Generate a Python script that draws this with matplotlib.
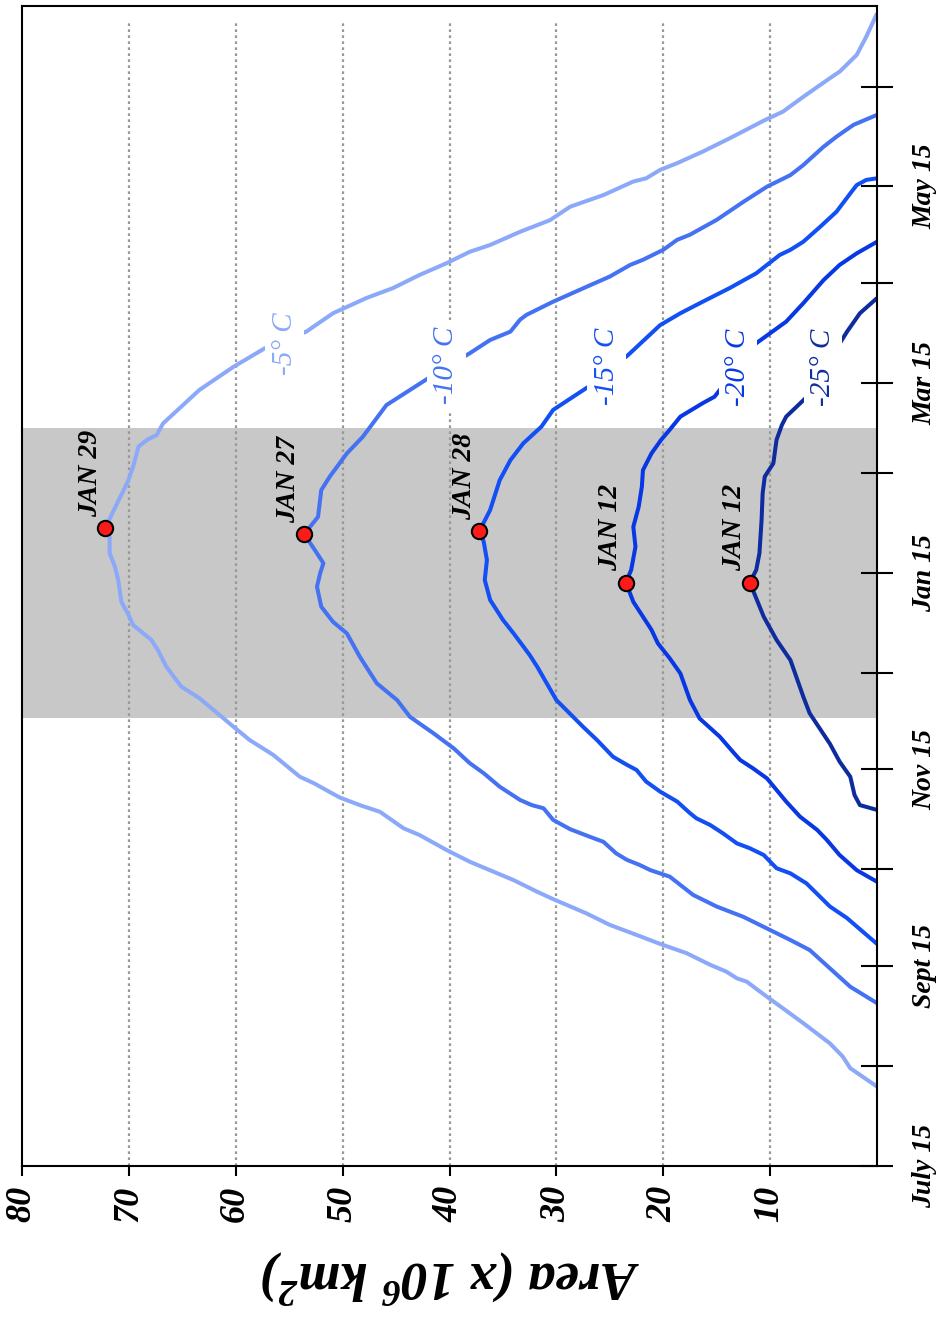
import datetime as dt
import matplotlib
matplotlib.use("Agg")
import matplotlib.pyplot as plt

plt.rcParams['font.family'] = ['Liberation Serif', 'DejaVu Serif']
plt.rcParams['mathtext.fontset'] = 'custom'
plt.rcParams['mathtext.rm'] = 'Liberation Serif:bold:italic'
plt.rcParams['mathtext.it'] = 'Liberation Serif:bold:italic'
plt.rcParams['mathtext.bf'] = 'Liberation Serif:bold:italic'
plt.rcParams['mathtext.default'] = 'rm'

SEASON_START = dt.date(2001, 7, 15)


def season_day(month, day):
    """Days elapsed since July 15 of the season."""
    year = 2001 if month >= 7 else 2002
    return (dt.date(year, month, day) - SEASON_START).days


# ---------------- data ----------------
temps = [-5, -10, -15, -20, -25]

# days since July 15, area in 10^6 km^2
days_m5 = [24.5, 30.2, 33.8, 37.9, 44.2, 48.8, 52.4, 57.1, 58.1, 60.2, 62.3, 65.9, 68.8, 71.6, 74.7,
           78.3, 82.7, 85.0, 88.6, 94.3, 98.0, 102.6, 104.7, 109.8, 111.9, 114.3, 118.7, 120.7, 127.5,
           132.1, 136.2, 145.1, 148.7, 154.9, 160.1, 163.2, 167.8, 171.4, 175.0, 181.8, 185.9, 190.1,
           195.2, 198, 205.6, 212.3, 217.0, 223.2, 225.3, 226.8, 230.4, 240.8, 248.0, 253.7, 258.9,
           264.6, 269.3, 272.4, 276.5, 280.1, 283.7, 285.8, 289.9, 293.5, 297.7, 301.3, 305.5, 306.5,
           309.1, 311.2, 314.8, 318.9, 324.4, 327.2, 331.8, 337.6, 339.6, 344.8, 350.5, 357.7]
area_m5 = [0.0, 2.5, 3.2, 4.4, 6.9, 8.8, 10.3, 12.2, 13.1, 14.1, 15.6, 17.8, 20.3, 22.5, 25.0,
           27.2, 30.3, 31.8, 34.0, 38.1, 40.3, 42.8, 44.3, 46.5, 48.4, 50.3, 52.7, 54.0, 56.5,
           58.7, 60.2, 63.4, 65.1, 66.5, 67.3, 67.9, 69.6, 70.1, 70.7, 71.0, 71.3, 71.8,
           71.8, 72.2, 71.1, 70.1, 69.6, 69.1, 68.3, 67.4, 66.8, 63.4, 60.2, 57.3, 53.4,
           50.9, 47.8, 45.3, 42.8, 40.3, 38.1, 36.2, 33.4, 30.6, 28.7, 25.6, 22.8, 21.6,
           20.3, 18.7, 16.3, 13.8, 10.6, 8.8, 6.9, 4.4, 3.5, 1.9, 1.0, 0.0]

days_m10 = [50.4, 55.5, 61.2, 66.9, 70.0, 73.6, 77.2, 80.4, 84.0, 89.7, 90.7, 91.7, 93.3, 94.9, 96.9,
            100.5, 102.1, 104.4, 107.3, 110.9, 111.9, 113.5, 117.6, 121.8, 124.9, 129.5, 134.2, 139.3,
            144.5, 149.7, 152.8, 158.0, 165.2, 168.8, 173.5, 179.7, 183.9, 187.0, 191.1, 196, 201.4,
            209.7, 213.9, 221.1, 226.3, 236.1, 244.4, 252.2, 256.3, 258.9, 262.6, 264.1, 268.2, 271.9,
            276.0, 279.6, 281.2, 284.3, 287.4, 289.0, 293.6, 299.2, 303.9, 307.5, 310.6, 316.3, 319.4,
            323.1, 326.2]
area_m10 = [0.0, 2.5, 4.4, 6.3, 8.1, 10.3, 12.5, 15.0, 17.2, 19.4, 20.3, 21.2, 22.2, 23.4, 24.4,
            25.6, 26.9, 28.7, 30.3, 31.2, 32.3, 33.4, 35.3, 36.8, 38.1, 39.6, 41.5, 43.7,
            44.9, 46.8, 47.4, 48.4, 49.6, 50.9, 52.0, 52.4, 52.1, 51.8, 52.6, 53.6, 52.3,
            52.0, 51.2, 49.6, 48.1, 45.9, 42.0, 38.1, 36.2, 34.3, 33.4, 32.8, 30.3, 27.8,
            25.0, 23.1, 21.9, 20.0, 18.7, 17.5, 15.0, 12.5, 10.3, 8.1, 6.9, 5.0, 3.8,
            2.2, 0.0]

days_m15 = [68.8, 76.8, 80.4, 87.6, 90.7, 92.3, 96.4, 98.5, 100.0, 103.1, 105.7, 107.8, 109.4, 113.0,
            116.1, 119.2, 122.8, 124.4, 126.9, 132.1, 136.2, 144.5, 154.9, 158.5, 165.2, 169.4, 175.6,
            181.8, 188.0, 193.7, 197, 203.5, 212.8, 219.0, 224.2, 229.4, 234.6, 241.8, 251.6, 260.9,
            264.6, 268.2, 272.4, 277.0, 279.6, 282.7, 284.3, 286.8, 291.5, 296.1, 301.8, 304.4, 306.0,
            306.5]
area_m15 = [0.0, 2.8, 4.4, 6.6, 8.1, 9.4, 10.6, 11.9, 13.1, 14.4, 15.6, 16.9, 17.5, 18.7,
            20.3, 21.6, 22.5, 23.4, 24.7, 26.2, 27.5, 30.0, 31.8, 32.5, 34.0, 35.0, 36.2,
            36.7, 36.5, 36.8, 37.2, 36.2, 35.3, 34.3, 33.1, 31.4, 30.3, 27.0, 23.3, 20.3,
            18.4, 16.3, 13.8, 11.3, 10.3, 9.1, 8.1, 6.9, 5.3, 3.8, 2.5, 1.9, 1.0,
            0.0]

days_m20 = [88.1, 91.7, 96.4, 101.1, 104.2, 108.3, 113.0, 120.2, 123.3, 125.9, 128.5, 133.1, 138.8,
            144.5, 152.8, 157.5, 162.1, 166.3, 170.4, 175.0, 181, 184.9, 192.1, 198.3, 204.5, 210.8,
            215.9, 221.1, 225.3, 228.4, 232.5, 236.7, 238.7, 255.3, 258.4, 262.0, 267.7, 274.9, 279.6,
            283.2, 286.8]
area_m20 = [0.0, 1.9, 3.5, 4.7, 5.6, 7.2, 8.5, 10.3, 11.6, 12.8, 13.5, 14.7, 16.6,
            17.5, 18.4, 19.4, 20.5, 21.1, 21.9, 22.8, 23.5, 23.0, 22.6, 22.8, 22.3, 22.0,
            21.9, 21.1, 20.2, 19.4, 18.4, 16.3, 15.2, 11.3, 10.0, 8.5, 6.9, 5.0, 3.5,
            1.9, 0.0]

days_m25 = [110.4, 111.9, 115.0, 120.7, 125.4, 130.9, 140.4, 145.6, 156.9, 163.2, 170.4, 181, 184.9,
            190.1, 200.4, 208.7, 213.9, 218.0, 225.3, 229.9, 232.5, 238.2, 258.9, 264.6, 269.3]
area_m25 = [0.0, 1.6, 2.1, 2.5, 3.5, 4.4, 6.3, 6.9, 8.1, 9.4, 10.6, 11.9, 11.3,
            11.0, 10.8, 10.7, 10.5, 9.7, 9.4, 8.9, 8.5, 6.7, 2.8, 1.6, 0.0]

# date of maximum extent for each isotherm
peak_labels = ["JAN 29", "JAN 27", "JAN 28", "JAN 12", "JAN 12"]
peak_area = [72.2, 53.6, 37.2, 23.5, 11.9]

area_ticks = [80, 70, 60, 50, 40, 30, 20, 10]
month_ticks = [(7, 15), (8, 15), (9, 15), (10, 15), (11, 15), (12, 15),
               (1, 15), (2, 15), (3, 15), (4, 15), (5, 15), (6, 15)]
month_labels = ["July 15", "", "Sept 15", "", "Nov 15", "", "Jan 15", "", "Mar 15", "", "May 15", ""]
winter = [(12, 1), (3, 1)]

# ---------------- style ----------------
colors = ['#8ba9f8', '#4472f2', '#124ff4', '#0838e4', '#0f2c9e']
label_pos = [(55.4, 255.0), (40.3, 248.5), (25.3, 248.2), (13.0, 247.9), (5.05, 247.9)]

curves = [(days_m5, area_m5), (days_m10, area_m10), (days_m15, area_m15),
          (days_m20, area_m20), (days_m25, area_m25)]

peak_day = []
for lbl in peak_labels:
    d = dt.datetime.strptime(lbl, "%b %d")
    peak_day.append(season_day(d.month, d.day))

fig = plt.figure(figsize=(9.41, 13.18), dpi=100)
ax = fig.add_axes([22 / 941, 1 - 1165.5 / 1318, 855 / 941, 1159.5 / 1318])
ax.set_xlim(80, 0)
ax.set_ylim(0, 360)

# winter shading
ax.axhspan(season_day(*winter[0]), season_day(*winter[1]), color='#c8c8c8', lw=0, zorder=0)

# dotted guide lines
for v in area_ticks[1:]:
    ax.axvline(v, ymin=0, ymax=0.988, color='#999999', lw=1.6,
               linestyle=(0, (1.2, 1.5)), zorder=1)

for (d, a), c in zip(curves, colors):
    ax.plot(a, d, color=c, lw=2.9, zorder=2, solid_joinstyle='round', solid_capstyle='butt')

for t, (lx, ly), c in zip(temps, label_pos, colors):
    ax.text(lx, ly, f"{t}° C", rotation=90, color=c, fontsize=21, fontstyle='italic',
            ha='center', va='center', zorder=3,
            bbox=dict(boxstyle='square,pad=0.22', fc='white', ec='none'))

ax.plot(peak_area, peak_day, 'o', ms=11, mfc='#ff1a1a', mec='black', mew=1.5, zorder=5)
for lbl, a, d in zip(peak_labels, peak_area, peak_day):
    ax.annotate(lbl, (a, d), xytext=(-11, 8), textcoords='offset points', rotation=90,
                ha='center', va='bottom', fontsize=20, fontweight='bold', fontstyle='italic',
                zorder=6)

# axes, ticks
for s in ax.spines.values():
    s.set_linewidth(1.5)

ax.set_xticks(area_ticks)
ax.set_xticklabels([str(v) for v in area_ticks])
ax.tick_params(axis='x', direction='out', length=7.5, width=1.5, labelsize=26,
               labelrotation=90, pad=7)

ax.yaxis.tick_right()
ax.set_yticks([season_day(m, d) for m, d in month_ticks])
ax.set_yticklabels(month_labels)
ax.tick_params(axis='y', direction='inout', length=23, width=1.5, labelsize=20,
               labelrotation=90, pad=14)

for lbl in ax.get_xticklabels() + ax.get_yticklabels():
    lbl.set_fontweight('bold')
    lbl.set_fontstyle('italic')
for lbl in ax.get_yticklabels():
    lbl.set_verticalalignment('center')

fig.text(450 / 941, 1 - 1276 / 1318, r"Area (x 10$^{6}$ km$^{2}$)", rotation=180,
         ha='center', va='center', fontsize=39, fontweight='bold', fontstyle='italic')

fig.savefig('out.png', dpi=100)
